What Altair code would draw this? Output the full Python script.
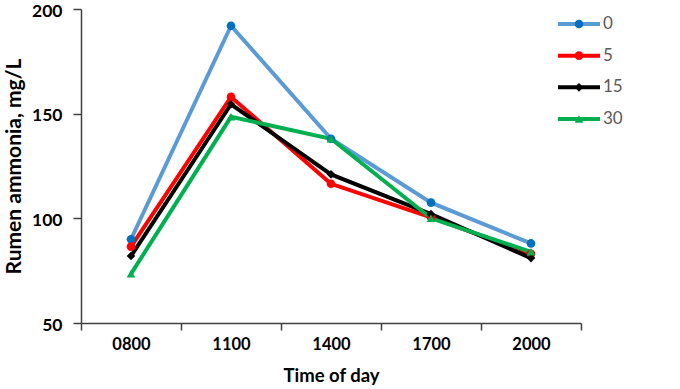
import altair as alt
import pandas as pd

times = ["0800", "1100", "1400", "1700", "2000"]
series = ["0", "5", "15", "30"]
vals_0 = [90, 192, 138, 107.5, 88]
vals_5 = [86.5, 158, 116.5, 100.5, 83]
vals_15 = [82, 154.5, 121, 102, 81]
vals_30 = [73.5, 148.5, 138, 100, 84]

line_colors = ["#5B9BD5", "#FF0000", "#000000", "#00B050"]
marker_colors = ["#0070C0", "#FF0000", "#000000", "#00B050"]
shapes = ["circle", "circle", "diamond", "triangle-up"]
sizes = [75, 75, 55, 80]

rows = []
for s, vals in zip(series, [vals_0, vals_5, vals_15, vals_30]):
    for t, v in zip(times, vals):
        rows.append({"time": t, "series": s, "value": v})
df = pd.DataFrame(rows)
leg = pd.DataFrame({"series": series})

FONT = "Lato"

x_axis = alt.Axis(
    title="Time of day",
    labelAngle=0,
    tickBand="extent",
    tickSize=7,
    labelPadding=6,
    titlePadding=14,
    labelFontSize=16.5,
    titleFontSize=18.5,
    labelFontWeight="bold",
    titleFontWeight="bold",
    labelFont=FONT,
    titleFont=FONT,
    labelColor="#000000",
    titleColor="#000000",
    domainColor="#404040",
    tickColor="#404040",
    domainWidth=1.5,
    tickWidth=1.5,
    grid=False,
)
x_scale = alt.Scale(type="band", domain=times, paddingInner=0, paddingOuter=0)

y_scale = alt.Scale(domain=[50, 200], nice=False, zero=False)

y_axis = alt.Axis(
    title="Rumen ammonia, mg/L",
    values=[50, 100, 150, 200],
    tickSize=8,
    labelPadding=11,
    labelOffset=2,
    titlePadding=7,
    labelFontSize=17.5,
    titleFontSize=21,
    labelFontWeight="bold",
    titleFontWeight="bold",
    labelFont=FONT,
    titleFont=FONT,
    labelColor="#000000",
    titleColor="#000000",
    domainColor="#404040",
    tickColor="#404040",
    domainWidth=1.5,
    tickWidth=1.5,
    grid=False,
)

lines = alt.Chart(df).mark_line(strokeWidth=4).encode(
    x=alt.X("time:N", sort=times, scale=x_scale, axis=x_axis, bandPosition=0.5),
    y=alt.Y("value:Q", scale=y_scale, axis=y_axis),
    color=alt.Color("series:N", scale=alt.Scale(domain=series, range=line_colors), legend=None),
    detail="series:N",
)

points = alt.Chart(df).mark_point(filled=True, opacity=1).encode(
    x=alt.X("time:N", sort=times, scale=x_scale, axis=x_axis, bandPosition=0.5),
    y=alt.Y("value:Q", scale=y_scale, axis=None),
    color=alt.Color("series:N", scale=alt.Scale(domain=series, range=marker_colors), legend=None),
    shape=alt.Shape("series:N", scale=alt.Scale(domain=series, range=shapes), legend=None),
    size=alt.Size("series:N", scale=alt.Scale(domain=series, range=sizes), legend=None),
)

leg_y = alt.Y(
    "series:N",
    sort=series,
    scale=alt.Scale(type="point", domain=series, range=[15, 110], padding=0),
    axis=None,
)

leg_rule = alt.Chart(leg).mark_rule(strokeWidth=4).encode(
    x=alt.value(477),
    x2=alt.value(519),
    y=leg_y,
    color=alt.Color("series:N", scale=alt.Scale(domain=series, range=line_colors), legend=None),
)

leg_pt = alt.Chart(leg).mark_point(filled=True, opacity=1).encode(
    x=alt.value(498),
    y=leg_y,
    color=alt.Color("series:N", scale=alt.Scale(domain=series, range=marker_colors), legend=None),
    shape=alt.Shape("series:N", scale=alt.Scale(domain=series, range=shapes), legend=None),
    size=alt.Size("series:N", scale=alt.Scale(domain=series, range=sizes), legend=None),
)

leg_txt = alt.Chart(leg).mark_text(align="left", baseline="middle", fontSize=17, font=FONT, color="#595959").encode(
    x=alt.value(522),
    y=leg_y,
    text="series:N",
)

chart = (
    alt.layer(lines, points, leg_rule, leg_pt, leg_txt)
    .resolve_scale(y="independent", color="independent", shape="independent", size="independent")
    .properties(
        width=500,
        height=314,
        autosize=alt.AutoSizeParams(type="none"),
        padding={"left": 81, "top": 9, "right": 99, "bottom": 66},
        background="#FFFFFF",
    )
    .configure_view(stroke=None)
)

chart.save("out.html", embed_options={"renderer": "svg", "actions": False})
